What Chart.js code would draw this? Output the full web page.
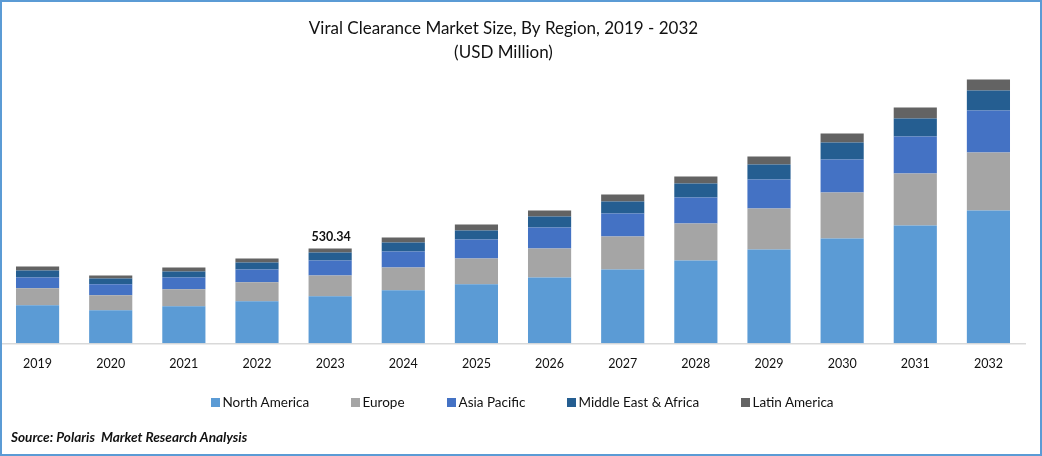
<!DOCTYPE html>
<html>
<head>
<meta charset="utf-8">
<title>Viral Clearance Market Size</title>
<script src="https://cdn.jsdelivr.net/npm/chart.js@4"></script>
<style>
  html, body { margin: 0; padding: 0; background: #fff; }
  #wrap { position: relative; width: 1042px; height: 456px; overflow: hidden; font-family: Lato, sans-serif; color: #111; }
  #frame { position: absolute; inset: 0; border: 2px solid #5b9bd5; pointer-events: none; }
  #legend { position: absolute; top: 394px; left: 211px; font-size: 13.5px; line-height: 17px; white-space: nowrap; }
  #legend span { position: absolute; top: 0; }
  #legend i { position: absolute; top: 4px; width: 9px; height: 9px; }
  #source { position: absolute; left: 11px; top: 429px; font: italic bold 13.6px Lato, sans-serif; }
</style>
</head>
<body>
<div id="wrap">
  <canvas id="chart" width="1042" height="456"></canvas>
  <div id="legend"></div>
  <div id="source">Source: Polaris&nbsp; Market Research Analysis</div>
  <div id="frame"></div>
</div>
<script>
const years = ['2019','2020','2021','2022','2023','2024','2025','2026','2027','2028','2029','2030','2031','2032'];
const northAmerica = [212.2,184.2,206.6,234.5,262.4,295.9,329.4,368.5,413.2,463.4,524.8,586.3,658.8,742.6];
const europe = [94.9,83.8,94.9,106.1,117.2,128.4,145.2,161.9,184.2,206.6,228.9,256.8,290.3,323.8];
const asiaPacific = [61.4,61.4,67,72.6,83.7,89.3,106.1,117.2,128.4,145.2,161.9,184.2,206.6,234.5];
const middleEast = [39.1,33.5,33.5,39.1,44.7,50.2,50.2,61.4,67,78.2,83.8,94.9,100.5,111.7];
const latinAmerica = [22.3,16.7,22.3,22.3,22.3,27.9,33.5,33.5,39.1,39.1,44.7,50.2,61.4,61.4];
const labelledYear = '2023';
const labelledValue = '530.34';

const series = [
  { label: 'North America', data: northAmerica, color: '#5b9bd5', x: 0 },
  { label: 'Europe', data: europe, color: '#a5a5a5', x: 140 },
  { label: 'Asia Pacific', data: asiaPacific, color: '#4472c4', x: 236 },
  { label: 'Middle East & Africa', data: middleEast, color: '#255e91', x: 356 },
  { label: 'Latin America', data: latinAmerica, color: '#636363', x: 530 }
];

// total label above one bar only, title sits a bit left of the plot centre
const totalLabel = {
  id: 'totalLabel',
  afterLayout(chart) {
    chart.titleBlock.right -= 19;
  },
  afterDatasetsDraw(chart) {
    const i = years.indexOf(labelledYear);
    const top = chart.getDatasetMeta(series.length - 1).data[i];
    const ctx = chart.ctx;
    ctx.save();
    ctx.font = 'bold 12.5px Lato, sans-serif';
    ctx.fillStyle = '#111';
    ctx.textAlign = 'center';
    ctx.textBaseline = 'bottom';
    ctx.fillText(labelledValue, top.x + 1, top.y - 5);
    ctx.restore();
  }
};

new Chart(document.getElementById('chart'), {
  type: 'bar',
  data: {
    labels: years,
    datasets: series.map(s => ({
      label: s.label,
      data: s.data,
      backgroundColor: s.color,
      borderWidth: 0,
      barPercentage: 0.59,
      categoryPercentage: 1
    }))
  },
  options: {
    responsive: false,
    animation: false,
    layout: { padding: { left: 1, right: 17, top: 0, bottom: 72.3 } },
    plugins: {
      legend: { display: false },
      tooltip: { enabled: false },
      title: {
        display: true,
        text: ['Viral Clearance Market Size, By Region, 2019 - 2032', '(USD Million)'],
        color: '#111',
        font: { family: 'Lato, sans-serif', size: 17, weight: 'normal', lineHeight: 1.4 },
        padding: { top: 17, bottom: 5 }
      }
    },
    scales: {
      x: {
        stacked: true,
        grid: { display: false, drawTicks: false },
        border: { color: '#d9d9d9', width: 1.5 },
        ticks: { color: '#111', font: { family: 'Lato, sans-serif', size: 12.5 }, padding: 12.7, maxRotation: 0 }
      },
      y: { stacked: true, display: false, min: 0, max: 1530 }
    }
  },
  plugins: [totalLabel]
});

const legend = document.getElementById('legend');
series.forEach(s => {
  const box = document.createElement('i');
  box.style.left = s.x + 'px';
  box.style.background = s.color;
  const text = document.createElement('span');
  text.style.left = (s.x + 11.5) + 'px';
  text.textContent = s.label;
  legend.appendChild(box);
  legend.appendChild(text);
});
</script>
</body>
</html>
